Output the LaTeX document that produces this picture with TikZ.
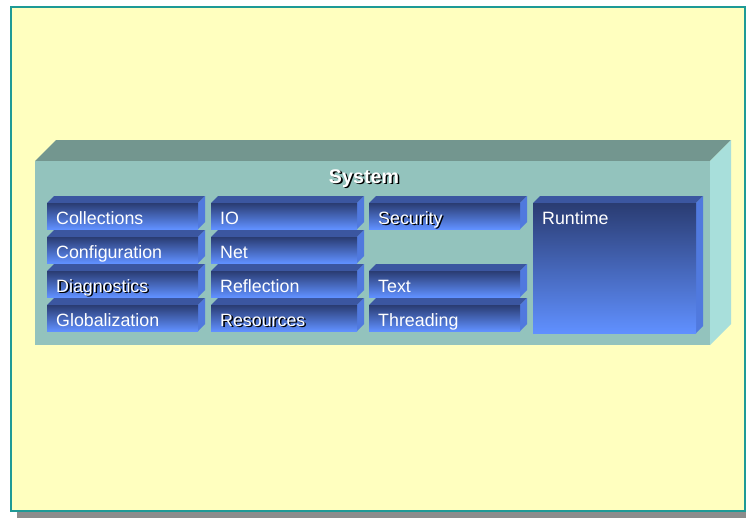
\documentclass[tikz,border=0pt]{standalone}
\usepackage{fontspec}
\setmainfont{Liberation Sans}

\definecolor{paper}{HTML}{FFFFBF}
\definecolor{frameline}{HTML}{1E9A96}
\definecolor{dropgray}{HTML}{8C8C8C}
\definecolor{basefront}{HTML}{93C3BD}
\definecolor{basetop}{HTML}{73968F}
\definecolor{baseside}{HTML}{A8DFDB}
\definecolor{slabtopc}{HTML}{3B56A0}
\definecolor{slabsidec}{HTML}{5079DE}
\definecolor{slabdark}{HTML}{2A3C72}
\definecolor{slabmid}{HTML}{4465B8}
\definecolor{slablight}{HTML}{6090FF}

\tikzset{
  slabfront/.style={top color=slabdark, middle color=slabmid, bottom color=slablight},
  lbl/.style={anchor=base west, inner sep=0pt, text=white, font=\fontsize{15.2}{18}\selectfont},
  title/.style={anchor=base, inner sep=0pt, text=white, font=\bfseries\fontsize{16.8}{20}\selectfont}
}

% white text with a black drop shadow
\newcommand{\shadowed}[1]{\rlap{\kern1.3pt\raisebox{-1.3pt}{\color{black}#1}}#1}

% one blue slab: front face from (#1,#2) to (#3,#4), depth 7
\newcommand{\slab}[4]{%
  \fill[slabtopc] (#1,#2) -- ({#1+7},{#2-7}) -- ({#3+7},{#2-7}) -- (#3,#2) -- cycle;
  \fill[slabsidec] (#3,#2) -- ({#3+7},{#2-7}) -- ({#3+7},{#4-7}) -- (#3,#4) -- cycle;
  \shade[slabfront] (#1,#2) rectangle (#3,#4);
}

\begin{document}
\begin{tikzpicture}[x=0.03cm, y=-0.03cm]
  \useasboundingbox (0,0) rectangle (746,518);

  % Page
  \fill[dropgray] (17,13) rectangle (752,518);
  \fill[paper] (11,7) rectangle (745,511);
  \draw[frameline, line width=0.06cm] (11,7) rectangle (745,511);

  % Base block
  \fill[basetop] (35,161) -- (56,140) -- (731,140) -- (710,161) -- cycle;
  \fill[baseside] (710,161) -- (731,140) -- (731,324) -- (710,345) -- cycle;
  \fill[basefront] (35,161) rectangle (710,345);
  \node[title] (sys) at (364,183) {\shadowed{System}};

  % Slabs
  \slab{47}{203}{198}{229}
  \slab{47}{237}{198}{263}
  \slab{47}{271}{198}{297}
  \slab{47}{305}{198}{331}
  \slab{211}{203}{357}{229}
  \slab{211}{237}{357}{263}
  \slab{211}{271}{357}{297}
  \slab{211}{305}{357}{331}
  \slab{369}{203}{520}{229}
  \slab{369}{271}{520}{297}
  \slab{369}{305}{520}{331}
  \slab{533}{203}{696}{333}

  % Labels
  \node[lbl] (coll) at (56,224) {Collections};
  \node[lbl] (conf) at (56,258) {Configuration};
  \node[lbl] (diag) at (56,292) {\shadowed{Diagnostics}};
  \node[lbl] (glob) at (56,326) {Globalization};
  \node[lbl] (io) at (220,224) {IO};
  \node[lbl] (net) at (220,258) {Net};
  \node[lbl] (refl) at (220,292) {Reflection};
  \node[lbl] (res) at (220,326) {\shadowed{Resources}};
  \node[lbl] (sec) at (378,224) {\shadowed{Security}};
  \node[lbl] (text) at (378,292) {Text};
  \node[lbl] (thread) at (378,326) {Threading};
  \node[lbl] (run) at (542,224) {Runtime};
\end{tikzpicture}
\end{document}
